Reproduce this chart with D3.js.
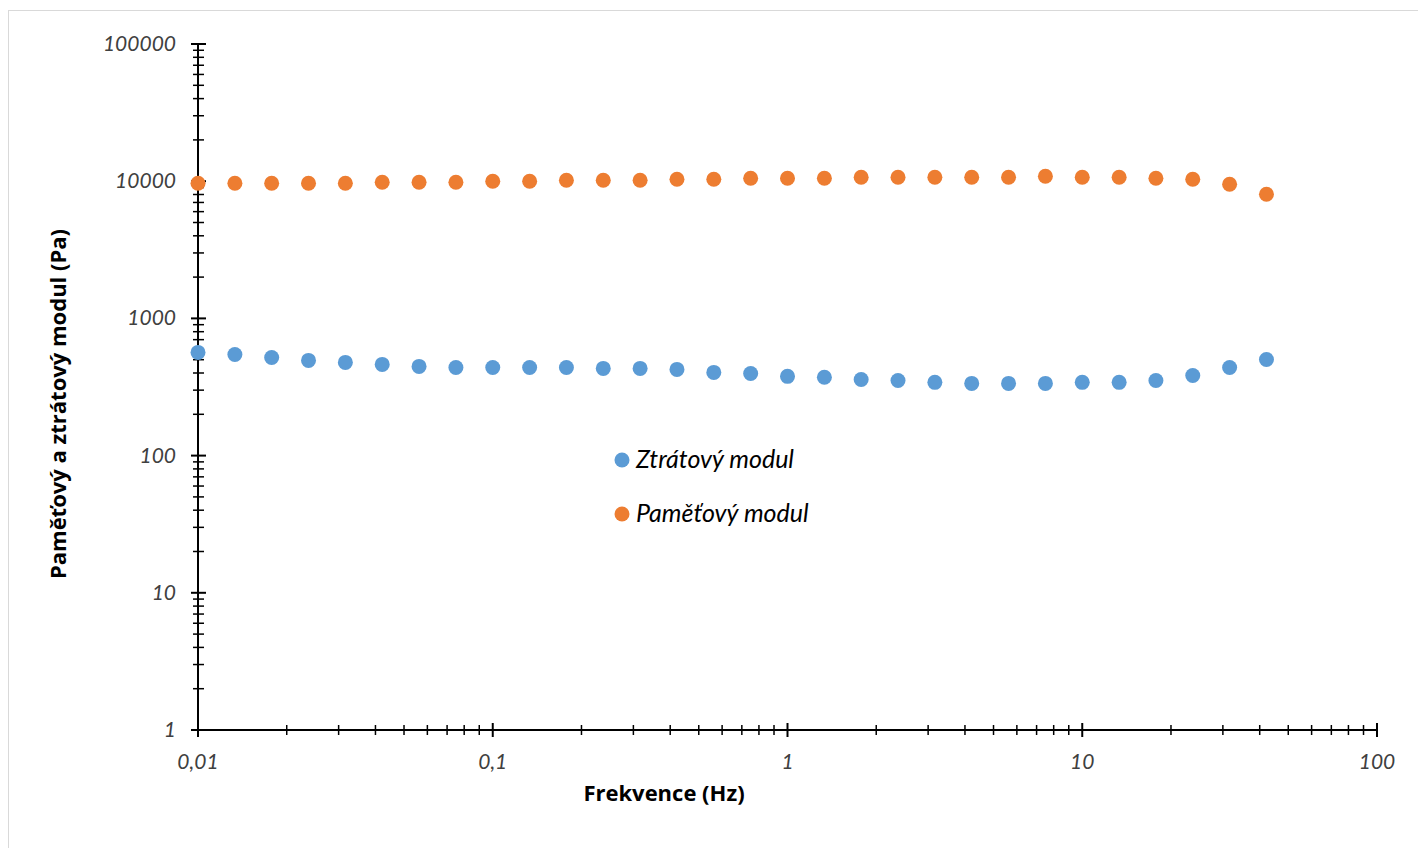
<!DOCTYPE html>
<html>
<head>
<meta charset="utf-8">
<script src="https://cdn.jsdelivr.net/npm/d3@7"></script>
<style>
  body { margin: 0; background: #fff; }
  svg { display: block; }
</style>
</head>
<body>
<svg id="chart" width="1418" height="848"></svg>
<script>
// frekvence (Hz)
const freq = [0.01, 0.01334, 0.01778, 0.02371, 0.03162, 0.04217, 0.05623, 0.07499,
  0.1, 0.1334, 0.1778, 0.2371, 0.3162, 0.4217, 0.5623, 0.7499,
  1, 1.334, 1.778, 2.371, 3.162, 4.217, 5.623, 7.499,
  10, 13.34, 17.78, 23.71, 31.62, 42.17];
// pametovy modul (Pa)
const storage = [9670, 9670, 9670, 9670, 9670, 9834, 9834, 9834,
  10000, 10000, 10169, 10169, 10169, 10341, 10341, 10516,
  10516, 10516, 10694, 10694, 10694, 10694, 10694, 10875,
  10694, 10694, 10516, 10341, 9509, 8039];
// ztratovy modul (Pa)
const loss = [565, 546, 519, 494, 478, 462, 447, 439,
  439, 439, 439, 432, 432, 425, 404, 397,
  378, 372, 359, 353, 342, 336, 336, 336,
  342, 342, 353, 384, 439, 502];

const xTicks = [0.01, 0.1, 1, 10, 100];
const yTicks = [1, 10, 100, 1000, 10000, 100000];
const series = [
  {name: 'Ztrátový modul', values: loss, color: '#5b9bd5'},
  {name: 'Paměťový modul', values: storage, color: '#ed7d31'}
];

const svg = d3.select('#chart');
const fmt = d => String(d).replace('.', ',');

// ramecek grafu
svg.append('rect')
  .attr('x', 8.5).attr('y', 10.5)
  .attr('width', 1430).attr('height', 860)
  .attr('fill', 'none').attr('stroke', '#d9d9d9');

const x = d3.scaleLog().domain([0.01, 100]).range([198, 1377]);
const y = d3.scaleLog().domain([1, 100000]).range([730, 44]);

// vedlejsi znacky
const minorX = [];
xTicks.slice(0, -1).forEach(t => { for (let k = 2; k < 10; k++) minorX.push(t * k); });
const minorY = [];
yTicks.slice(0, -1).forEach(t => { for (let k = 2; k < 10; k++) minorY.push(t * k); });

const g = svg.append('g');

g.selectAll('.xminor').data(minorX).join('line')
  .attr('class', 'xminor')
  .attr('x1', d => x(d)).attr('x2', d => x(d))
  .attr('y1', 725).attr('y2', 735)
  .attr('stroke', '#000').attr('stroke-width', 1.5);
g.selectAll('.xmajor').data(xTicks).join('line')
  .attr('class', 'xmajor')
  .attr('x1', d => x(d)).attr('x2', d => x(d))
  .attr('y1', 723).attr('y2', 737)
  .attr('stroke', '#000').attr('stroke-width', 2);

g.selectAll('.yminor').data(minorY).join('line')
  .attr('class', 'yminor')
  .attr('x1', 193).attr('x2', 204)
  .attr('y1', d => y(d)).attr('y2', d => y(d))
  .attr('stroke', '#000').attr('stroke-width', 1.5);
g.selectAll('.ymajor').data(yTicks).join('line')
  .attr('class', 'ymajor')
  .attr('x1', 191).attr('x2', 206)
  .attr('y1', d => y(d)).attr('y2', d => y(d))
  .attr('stroke', '#000').attr('stroke-width', 2);

// osy
g.append('line')
  .attr('x1', x(0.01)).attr('x2', x(100))
  .attr('y1', y(1)).attr('y2', y(1))
  .attr('stroke', '#000').attr('stroke-width', 2);
g.append('line')
  .attr('x1', x(0.01)).attr('x2', x(0.01))
  .attr('y1', y(1)).attr('y2', y(100000))
  .attr('stroke', '#000').attr('stroke-width', 2);

// popisky
g.selectAll('.xlab').data(xTicks).join('text')
  .attr('class', 'xlab')
  .attr('x', d => x(d)).attr('y', 769)
  .attr('text-anchor', 'middle')
  .style('font-family', 'Lato, "Open Sans", sans-serif')
  .style('font-style', 'italic').style('font-size', '21px')
  .style('fill', '#404040')
  .text(fmt);
g.selectAll('.ylab').data(yTicks).join('text')
  .attr('class', 'ylab')
  .attr('x', 176).attr('y', d => y(d) + 7)
  .attr('text-anchor', 'end')
  .style('font-family', 'Lato, "Open Sans", sans-serif')
  .style('font-style', 'italic').style('font-size', '21px')
  .style('fill', '#404040')
  .text(d => d);

svg.append('text')
  .attr('x', 664).attr('y', 801)
  .attr('text-anchor', 'middle')
  .style('font-family', '"Open Sans", sans-serif')
  .style('font-weight', 'bold').style('font-size', '22px')
  .text('Frekvence (Hz)');
svg.append('text')
  .attr('transform', 'translate(66,404) rotate(-90)')
  .attr('text-anchor', 'middle')
  .style('font-family', '"Open Sans", sans-serif')
  .style('font-weight', 'bold').style('font-size', '22px')
  .text('Paměťový a ztrátový modul (Pa)');

// body
series.forEach(s => {
  g.append('g').selectAll('circle')
    .data(freq.map((f, i) => [f, s.values[i]]))
    .join('circle')
    .attr('cx', d => x(d[0])).attr('cy', d => y(d[1]))
    .attr('r', 7.5)
    .attr('fill', s.color);
});

// legenda
const leg = svg.append('g').selectAll('g').data(series).join('g')
  .attr('transform', (d, i) => 'translate(622,' + (460 + i * 54) + ')');
leg.append('circle').attr('r', 7.5).attr('fill', d => d.color);
leg.append('text')
  .attr('x', 14).attr('y', 8)
  .style('font-family', 'Lato, "Open Sans", sans-serif')
  .style('font-style', 'italic').style('font-size', '25px')
  .text(d => d.name);
</script>
</body>
</html>
